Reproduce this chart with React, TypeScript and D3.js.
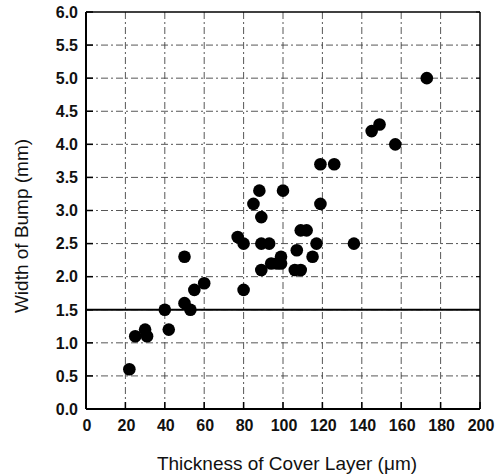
import React from "react";
import * as d3 from "d3";

const thickness = [22, 25, 30, 31, 40, 42, 50, 50, 53, 55, 60, 77, 80, 80, 85, 88, 89, 89, 89, 93, 94, 97, 99, 99, 100, 106, 107, 109, 109, 112, 115, 117, 119, 119, 126, 136, 145, 149, 157, 173];
const width = [0.6, 1.1, 1.2, 1.1, 1.5, 1.2, 2.3, 1.6, 1.5, 1.8, 1.9, 2.6, 2.5, 1.8, 3.1, 3.3, 2.9, 2.5, 2.1, 2.5, 2.2, 2.2, 2.3, 2.2, 3.3, 2.1, 2.4, 2.1, 2.7, 2.7, 2.3, 2.5, 3.7, 3.1, 3.7, 2.5, 4.2, 4.3, 4.0, 5.0];
const xTicks = [0, 20, 40, 60, 80, 100, 120, 140, 160, 180, 200];
const yTicks = [0, 0.5, 1, 1.5, 2, 2.5, 3, 3.5, 4, 4.5, 5, 5.5, 6];
const refLine = 1.5;

export default function App() {
  const W = 498, H = 474;
  const left = 86, right = 480, top = 12, bottom = 409;
  const x = d3.scaleLinear().domain([0, 200]).range([left, right]);
  const y = d3.scaleLinear().domain([0, 6]).range([bottom, top]);
  const font = "'Liberation Sans', Arial, Helvetica, sans-serif";
  const grid = { stroke: "#444", strokeWidth: 0.9, strokeDasharray: "7,3,2,3", fill: "none" };
  return (
    <svg width={W} height={H} style={{ position: "absolute", left: 0, top: 0, background: "#fff" }}>
      {xTicks.slice(1, -1).map((t) => (
        <line key={"gx" + t} x1={x(t)} x2={x(t)} y1={top} y2={bottom} {...grid} />
      ))}
      {yTicks.slice(1, -1).map((t) => (
        <line key={"gy" + t} x1={left} x2={right} y1={y(t)} y2={y(t)} {...grid} />
      ))}
      <line x1={left} x2={right} y1={y(refLine)} y2={y(refLine)} stroke="#000" strokeWidth={2} />
      {yTicks.map((t) => (
        <line key={"ty" + t} x1={left} x2={left + 7} y1={y(t)} y2={y(t)} stroke="#000" strokeWidth={1.5} />
      ))}
      {yTicks.map((t) => (
        <line key={"tyr" + t} x1={right} x2={right - 4} y1={y(t)} y2={y(t)} stroke="#000" strokeWidth={1} />
      ))}
      {xTicks.map((t) => (
        <line key={"tx" + t} x1={x(t)} x2={x(t)} y1={bottom} y2={bottom - 7} stroke="#000" strokeWidth={1.5} />
      ))}
      <line x1={left} x2={right} y1={top} y2={top} stroke="#000" strokeWidth={1.5} />
      <line x1={right} x2={right} y1={top} y2={bottom} stroke="#000" strokeWidth={1.5} />
      <line x1={left} x2={left} y1={top} y2={bottom} stroke="#000" strokeWidth={2} />
      <line x1={left} x2={right} y1={bottom} y2={bottom} stroke="#000" strokeWidth={2} />
      {thickness.map((v, i) => (
        <circle key={"p" + i} cx={x(v)} cy={y(width[i])} r={6.3} fill="#000" />
      ))}
      {yTicks.map((t) => (
        <text key={"ly" + t} x={78} y={y(t)} dy="0.36em" textAnchor="end" fontFamily={font} fontWeight="bold" fontSize={16} fill="#111">
          {t.toFixed(1)}
        </text>
      ))}
      {xTicks.map((t) => (
        <text key={"lx" + t} x={x(t) + 1} y={431} textAnchor="middle" fontFamily={font} fontWeight="bold" fontSize={16} fill="#111">
          {t}
        </text>
      ))}
      <text x={287} y={470} textAnchor="middle" fontFamily={font} fontSize={19} fill="#111">
        Thickness of Cover Layer (μm)
      </text>
      <text transform={`translate(28,226) rotate(-90)`} textAnchor="middle" fontFamily={font} fontSize={19} fill="#111">
        Width of Bump (mm)
      </text>
    </svg>
  );
}
